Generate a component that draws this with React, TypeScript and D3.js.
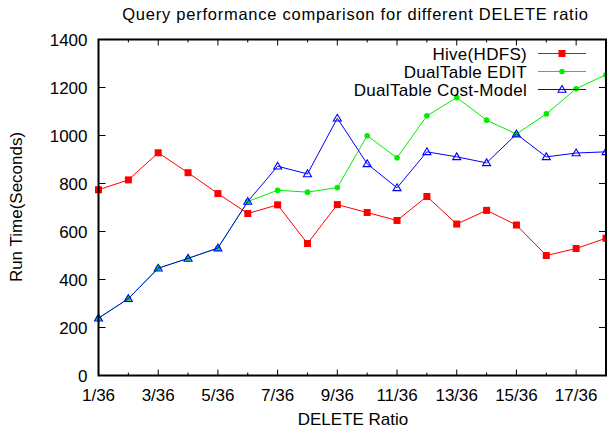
import React from "react";
import * as d3 from "d3";

const ratios = d3.range(1, 19);
const xTickLabels = ["1/36", "3/36", "5/36", "7/36", "9/36", "11/36", "13/36", "15/36", "17/36"];
const yTicks = [0, 200, 400, 600, 800, 1000, 1200, 1400];

const hive = [774, 815, 928, 845, 758, 675, 711, 550, 712, 679, 646, 746, 631, 688, 627, 500, 529, 572];
const edit = [239, 320, 447, 488, 531, 725, 772, 764, 783, 999, 907, 1082, 1158, 1064, 1006, 1090, 1195, 1253];
const costModel = [239, 320, 447, 488, 531, 725, 872, 840, 1072, 882, 782, 932, 911, 886, 1006, 911, 927, 932];

const seriesNames = ["Hive(HDFS)", "DualTable EDIT", "DualTable Cost-Model"];
const seriesColors = ["#ff0000", "#00ee00", "#0000ff"];

const W = 607, H = 435;
const M = { left: 98.5, right: 606, top: 39.5, bottom: 375.5 };
const FONT = "'Liberation Sans', Arial, Helvetica, sans-serif";

function Marker({ kind, x, y, color }: { kind: number; x: number; y: number; color: string }) {
  if (kind === 0) return <rect x={x - 3.5} y={y - 3.5} width={7} height={7} fill={color} />;
  if (kind === 1) return <circle cx={x} cy={y} r={2.8} fill={color} />;
  const s = 4;
  return <path d={`M${x},${y - s}L${x + s},${y + s * 0.7}L${x - s},${y + s * 0.7}Z`} fill="none" stroke={color} strokeWidth={1.1} />;
}

export default function App() {
  const x = d3.scaleLinear().domain([1, 18]).range([M.left, M.right]);
  const y = d3.scaleLinear().domain([0, 1400]).range([M.bottom, M.top]);
  const data = [hive, edit, costModel];
  const line = d3.line<number>().x((_, i) => x(ratios[i])).y((d) => y(d));

  const legX = 527, legLineX0 = 538, legLineX1 = 586;
  const legY = [53.5, 71.5, 89.5];

  return (
    <svg width={W} height={H} style={{ position: "absolute", left: 0, top: 0, background: "#fff" }} fontFamily={FONT}>
      <rect width={W} height={H} fill="#fff" />
      <text x={355.5} y={19.5} textAnchor="middle" fontSize={16.5} letterSpacing={0.75} fill="#000">
        Query performance comparison for different DELETE ratio
      </text>

      {/* y ticks */}
      {yTicks.map((t) => (
        <g key={t}>
          <line x1={M.left} x2={M.left + 7} y1={y(t)} y2={y(t)} stroke="#000" strokeWidth={1} />
          <line x1={M.right} x2={M.right - 7} y1={y(t)} y2={y(t)} stroke="#000" strokeWidth={1} />
          <text x={87.5} y={y(t) + 6} textAnchor="end" fontSize={17} fill="#000">{t}</text>
        </g>
      ))}
      {/* x ticks */}
      {ratios.map((r) => {
        const major = r % 2 === 1;
        const len = major ? 6 : 3;
        return (
          <g key={r}>
            <line x1={x(r)} x2={x(r)} y1={M.bottom} y2={M.bottom - len} stroke="#000" strokeWidth={1} />
            <line x1={x(r)} x2={x(r)} y1={M.top} y2={M.top + len} stroke="#000" strokeWidth={1} />
          </g>
        );
      })}
      {xTickLabels.map((lab, i) => (
        <text key={lab} x={x(1 + i * 2)} y={401} textAnchor="middle" fontSize={17} fill="#000">{lab}</text>
      ))}

      {/* series */}
      {data.map((d, si) => (
        <g key={si}>
          <path d={line(d) || ""} fill="none" stroke={seriesColors[si]} strokeWidth={1} />
          {d.map((v, i) => (
            <Marker key={i} kind={si} x={x(ratios[i])} y={y(v)} color={seriesColors[si]} />
          ))}
        </g>
      ))}

      {/* frame */}
      <rect x={M.left} y={M.top} width={M.right - M.left} height={M.bottom - M.top} fill="none" stroke="#000" strokeWidth={2} />

      {/* legend */}
      {seriesNames.map((n, i) => (
        <g key={n}>
          <text x={legX} y={legY[i] + 6} textAnchor="end" fontSize={17} letterSpacing={0.3} fill="#000">{n}</text>
          <line x1={legLineX0} x2={legLineX1} y1={legY[i]} y2={legY[i]} stroke={seriesColors[i]} strokeWidth={1} />
          <Marker kind={i} x={(legLineX0 + legLineX1) / 2} y={legY[i]} color={seriesColors[i]} />
        </g>
      ))}

      <text x={353} y={425} textAnchor="middle" fontSize={17} fill="#000">DELETE Ratio</text>
      <text transform={`translate(22,207) rotate(-90)`} textAnchor="middle" fontSize={17} fill="#000">Run Time(Seconds)</text>
    </svg>
  );
}
